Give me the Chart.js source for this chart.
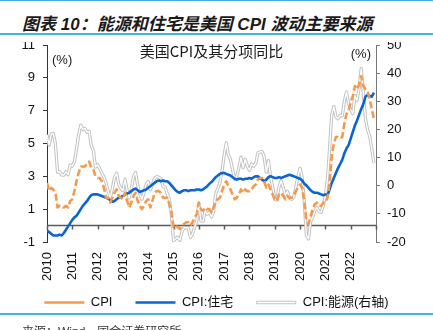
<!DOCTYPE html>
<html>
<head>
<meta charset="utf-8">
<script src="https://cdn.jsdelivr.net/npm/chart.js@4.4.1/dist/chart.umd.min.js"></script>
<style>
  html, body { margin: 0; padding: 0; background: #fff; }
  #page { position: relative; width: 433px; height: 330px; overflow: hidden; background: #fff; }
  .rule { position: absolute; left: 0; width: 433px; background: #45b0e6; }
  #title { position: absolute; left: 22px; top: 10px; line-height: 22px; white-space: nowrap;
           font: italic bold 17px "Liberation Sans", "Noto Sans CJK SC", sans-serif; color: #1a1a1a; }
  #wrap { position: absolute; left: 0; top: 42px; width: 433px; height: 277px; }
  #source { position: absolute; left: 22px; top: 322px; white-space: nowrap;
            font: 12px "Liberation Sans", "Noto Sans CJK SC", sans-serif; color: #333; }
</style>
</head>
<body>
<div id="page">
  <div class="rule" style="top:0;height:1px"></div>
  <div id="title">图表 10：能源和住宅是美国 CPI 波动主要来源</div>
  <div class="rule" style="top:33px;height:2px"></div>
  <div id="wrap"><canvas id="chart" width="433" height="277"></canvas></div>
  <div class="rule" style="top:313px;height:2px"></div>
  <div id="source">来源：Wind，国金证券研究所</div>
</div>
<script>
// monthly YoY, Jan 2010 - Dec 2022
const years = [2010, 2011, 2012, 2013, 2014, 2015, 2016, 2017, 2018, 2019, 2020, 2021, 2022];

const cpi = [
  2.6, 2.1, 2.3, 2.2, 2.0, 1.1, 1.2, 1.1, 1.1, 1.2, 1.1, 1.5,
  1.6, 2.1, 2.7, 3.2, 3.6, 3.6, 3.6, 3.8, 3.9, 3.5, 3.4, 3.0,
  2.9, 2.9, 2.7, 2.3, 1.7, 1.7, 1.4, 1.7, 2.0, 2.2, 1.8, 1.7,
  1.6, 2.0, 1.5, 1.1, 1.4, 1.8, 2.0, 1.5, 1.2, 1.0, 1.2, 1.5,
  1.6, 1.1, 1.5, 2.0, 2.1, 2.1, 2.0, 1.7, 1.7, 1.7, 1.3, 0.8,
  -0.1, 0.0, -0.1, -0.2, 0.0, 0.1, 0.2, 0.2, 0.0, 0.2, 0.5, 0.7,
  1.4, 1.0, 0.9, 1.1, 1.0, 1.0, 0.8, 1.1, 1.5, 1.6, 1.7, 2.1,
  2.5, 2.7, 2.4, 2.2, 1.9, 1.6, 1.7, 1.9, 2.2, 2.0, 2.2, 2.1,
  2.1, 2.2, 2.4, 2.5, 2.8, 2.9, 2.9, 2.7, 2.3, 2.5, 2.2, 1.9,
  1.6, 1.5, 1.9, 2.0, 1.8, 1.6, 1.8, 1.7, 1.7, 1.8, 2.1, 2.3,
  2.5, 2.3, 1.5, 0.3, 0.1, 0.6, 1.0, 1.3, 1.4, 1.2, 1.2, 1.4,
  1.4, 1.7, 2.6, 4.2, 5.0, 5.4, 5.4, 5.3, 5.4, 6.2, 6.8, 7.0,
  7.5, 7.9, 8.5, 8.3, 8.6, 9.1, 8.5, 8.3, 8.2, 7.7, 7.1, 6.5
];

const housing = [
  -0.3, -0.4, -0.5, -0.6, -0.6, -0.6, -0.55, -0.6, -0.45, -0.25, -0.05, 0.15,
  0.35, 0.5, 0.6, 0.8, 1.0, 1.2, 1.35, 1.5, 1.7, 1.85, 1.9, 1.9,
  1.9, 1.85, 1.8, 1.75, 1.7, 1.65, 1.55, 1.45, 1.5, 1.6, 1.7, 1.75,
  1.8, 1.9, 1.95, 2.0, 2.1, 2.2, 2.25, 2.15, 2.05, 2.1, 2.15, 2.2,
  2.3, 2.4, 2.5, 2.6, 2.7, 2.75, 2.7, 2.75, 2.7, 2.7, 2.6, 2.45,
  2.3, 2.15, 2.05, 2.0, 2.1, 2.15, 2.15, 2.1, 2.15, 2.15, 2.15, 2.2,
  2.2, 2.15, 2.2, 2.3, 2.4, 2.55, 2.65, 2.8, 2.95, 3.05, 3.15, 3.2,
  3.2, 3.15, 3.1, 3.05, 2.95, 2.85, 2.8, 2.85, 2.85, 2.8, 2.85, 2.85,
  2.9, 2.85, 2.95, 3.0, 3.0, 2.9, 2.8, 2.7, 2.8, 2.95, 3.0, 2.95,
  2.9, 2.9, 2.95, 2.9, 2.95, 3.0, 3.05, 3.1, 3.05, 3.0, 2.95, 2.9,
  2.85, 2.75, 2.55, 2.45, 2.3, 2.15, 2.05, 2.0, 2.0, 1.95, 1.9, 1.85,
  1.9, 1.85, 2.2, 2.6, 2.9, 3.2, 3.5, 3.75, 4.0, 4.4, 4.7, 4.9,
  5.3, 5.7, 6.1, 6.4, 6.75, 7.1, 7.4, 7.85, 7.95, 7.9, 7.85, 8.1
];

const energy = [
  18.1, 14.4, 18.3, 18.5, 14.9, 4.8, 5.0, 3.8, 3.8, 5.0, 3.9, 7.3,
  7.0, 8.5, 13.0, 18.0, 21.5, 20.0, 20.3, 19.0, 19.3, 14.2, 12.4, 6.6,
  7.5, 6.0, 4.5, 3.0, 1.0, -2.0, -4.3, -1.0, 3.0, 4.4, 0.5, -0.9,
  -1.7, 2.3, -1.7, -4.4, -1.1, 3.2, 4.7, 0.2, -3.1, -4.8, -2.4, 0.5,
  1.5, -1.5, 0.5, 2.6, 3.2, 3.0, 2.6, -0.2, -0.5, -2.7, -4.8, -10.6,
  -19.6, -18.8, -18.3, -19.4, -16.3, -15.0, -14.9, -15.0, -18.4, -17.1, -14.7, -12.6,
  -6.5, -12.5, -12.6, -8.9, -10.1, -9.4, -11.1, -9.2, -2.9, -0.9, 1.1, 5.4,
  10.8, 15.2, 10.9, 9.3, 5.6, 2.3, 3.4, 6.4, 10.1, 6.4, 9.4, 6.9,
  5.5, 7.7, 7.0, 7.9, 11.7, 12.0, 12.1, 10.2, 4.8, 8.9, 3.1, -0.3,
  -4.9, -5.0, -0.4, 1.7, -0.6, -3.4, -2.0, -4.4, -4.8, -4.2, -0.6, 3.4,
  6.2, 2.8, -5.7, -17.7, -18.9, -12.6, -11.2, -9.0, -7.7, -9.2, -9.4, -7.0,
  -3.6, 2.4, 13.2, 25.1, 28.1, 24.5, 23.8, 25.0, 24.8, 30.0, 33.3, 29.3,
  27.0, 25.6, 32.0, 30.3, 34.6, 41.6, 32.9, 23.8, 19.8, 17.6, 13.1, 8.0
];

// x position of each month in decimal years
const months = years.flatMap(y => Array.from({ length: 12 }, (_, m) => y + m / 12));

const orange = '#f59a4c';
const blue = '#0b64d3';
const grey = '#c2c2c2';
const font = '"Liberation Sans", "Noto Sans CJK SC", sans-serif';

const extras = {
  id: 'extras',
  beforeDatasetsDraw(chart) {
    // zero line of left axis with year ticks hanging below it
    const { ctx, chartArea: a, scales: { x, y } } = chart;
    const y0 = y.getPixelForValue(0);
    ctx.save();
    ctx.strokeStyle = '#5a5a5a';
    ctx.lineWidth = 1.5;
    ctx.beginPath();
    ctx.moveTo(a.left, y0);
    ctx.lineTo(a.right, y0);
    x.ticks.forEach(t => {
      const px = Math.round(x.getPixelForValue(t.value)) + 0.5;
      ctx.moveTo(px, y0);
      ctx.lineTo(px, y0 + 4);
    });
    ctx.stroke();
    ctx.restore();
  },
  afterDraw(chart) {
    const { ctx, chartArea: a } = chart;
    ctx.save();
    ctx.fillStyle = '#1a1a1a';
    ctx.textBaseline = 'middle';
    ctx.font = '15px "Noto Sans CJK SC", sans-serif';
    ctx.textAlign = 'center';
    ctx.fillText('美国CPI及其分项同比', (a.left + a.right) / 2, a.top + 6.5);
    ctx.font = '13px ' + font;
    ctx.textAlign = 'left';
    ctx.fillText('(%)', a.left + 5, a.top + 15.5);
    ctx.textAlign = 'right';
    ctx.fillText('(%)', a.right - 5, a.top + 9);
    // hollow look for the energy legend sample
    const hb = chart.legend.legendHitBoxes[2];
    if (hb) {
      const cy = hb.top + hb.height / 2;
      ctx.strokeStyle = '#fff';
      ctx.lineWidth = 1.3;
      ctx.beginPath();
      ctx.moveTo(hb.left + 1, cy);
      ctx.lineTo(hb.left + 39, cy);
      ctx.stroke();
    }
    ctx.restore();
  }
};

const fixWidth = w => scale => {
  scale.width = w;
  scale.paddingTop = 0;
  scale.paddingBottom = 0;
};

// widen the gap after the first two legend entries
const legendLabels = chart =>
  Chart.defaults.plugins.legend.labels.generateLabels(chart)
    .filter(item => item.datasetIndex !== 3)
    .map((item, i) => (i < 2 ? { ...item, text: item.text + '\u2003' } : item));

new Chart(document.getElementById('chart'), {
  type: 'line',
  data: {
    labels: months,
    datasets: [
      { label: 'CPI', data: cpi, yAxisID: 'y', order: 0,
        borderColor: orange, backgroundColor: orange, borderWidth: 2.6, borderDash: [7, 3] },
      { label: 'CPI:住宅', data: housing, yAxisID: 'y', order: 1,
        borderColor: blue, backgroundColor: blue, borderWidth: 2.6 },
      { label: 'CPI:能源(右轴)', data: energy, yAxisID: 'y1', order: 3,
        borderColor: grey, backgroundColor: grey, borderWidth: 3.3 },
      { label: 'energy-inner', data: energy, yAxisID: 'y1', order: 2,
        borderColor: '#ffffff', backgroundColor: '#ffffff', borderWidth: 1.3 }
    ]
  },
  options: {
    responsive: false,
    animation: false,
    events: [],
    layout: { padding: { top: 3, left: 0, right: 0, bottom: 0 } },
    elements: {
      point: { radius: 0 },
      line: { tension: 0, borderJoinStyle: 'round', fill: false }
    },
    plugins: {
      tooltip: { enabled: false },
      legend: {
        position: 'bottom',
        labels: {
          usePointStyle: true,
          pointStyle: 'line',
          pointStyleWidth: 40,
          padding: 10,
          color: '#111',
          font: { size: 13, family: font },
          generateLabels: legendLabels
        }
      }
    },
    scales: {
      x: {
        type: 'linear',
        min: 2010,
        max: 2023,
        afterFit: scale => {
          scale.height = 44;
          scale.paddingLeft = 0;
          scale.paddingRight = 0;
        },
        border: { display: false },
        grid: { display: false, drawTicks: false },
        ticks: {
          stepSize: 1,
          autoSkip: false,
          minRotation: 90,
          maxRotation: 90,
          padding: 10,
          color: '#111',
          font: { size: 13, family: font },
          callback: v => years.includes(v) ? String(v) : ''
        }
      },
      y: {
        position: 'left',
        min: -1,
        max: 11,
        afterFit: fixWidth(47),
        border: { display: true, color: '#333', width: 1 },
        grid: { drawOnChartArea: false, drawTicks: true, tickLength: 4, color: '#333' },
        ticks: { stepSize: 2, padding: 8, color: '#111', font: { size: 13, family: font } }
      },
      y1: {
        position: 'right',
        min: -20,
        max: 50,
        afterFit: fixWidth(57),
        border: { display: true, color: '#777', width: 1 },
        grid: { drawOnChartArea: false, drawTicks: true, tickLength: 4, color: '#777' },
        ticks: { stepSize: 10, padding: 7, color: '#111', font: { size: 13, family: font } }
      }
    }
  },
  plugins: [extras]
});
</script>
</body>
</html>
